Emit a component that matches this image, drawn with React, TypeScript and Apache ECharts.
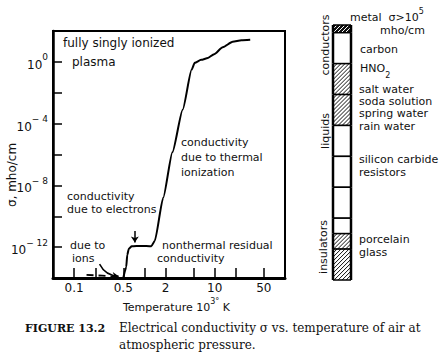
import React, { useEffect, useRef } from 'react';
import * as echarts from 'echarts';

// Main curve: temperature in 10^3 K, conductivity as exponent of σ (mho/cm)
const curveTemps = [0.5, 0.55, 0.57, 0.6, 0.66, 0.9, 1.25, 1.4, 1.85, 2.5, 3.5, 4.7, 5.2, 6.4, 8.0, 9.8, 13, 18, 24, 32];
const curveLogSigma = [-14, -13.3, -12.5, -12.1, -11.95, -11.92, -11.95, -11.6, -8.8, -5.85, -3.1, -0.5, -0.05, 0.13, 0.25, 0.5, 0.95, 1.3, 1.4, 1.43];

// Dashed "due to ions" branch
const ionTemps = [0.15, 0.25, 0.45];
const ionLogSigma = [-13.8, -13.85, -13.95];

// Annotation arrows [temp, logσ]
const arrowFrom = [[0.23, -13.1], [0.73, -10.95]];
const arrowTo = [[0.43, -13.88], [0.73, -11.7]];
const arrowCurveness = [-0.3, 0];

// Axis ticks
const xTickTemps = [0.1, 0.2, 0.5, 1, 2, 5, 10, 20, 50];
const xLabelTemps = [0.1, 0.5, 2, 10, 50];
const yTickExps = [-12, -10, -8, -6, -4, -2, 0];
const yLabelExps = [-12, -8, -4, 0];

// Conductivity scale column (exponent units, top to bottom)
const scaleUpper = [5.5, 5, 3, 1, -1, -3, -5, -7, -8, -9];
const scaleLower = [5, 3, 1, -1, -3, -5, -7, -8, -9, -11];
const scaleFill = ['solid', 'blank', 'hatch', 'hatch', 'blank', 'blank', 'blank', 'blank', 'hatch', 'hatch'];

const SANS = "'DejaVu Sans', 'Liberation Sans', sans-serif";
const SERIF = "'DejaVu Serif', 'Liberation Serif', serif";
const INK = '#111';

const lg = (v: number) => Math.log10(v);

function sup(base: string, exp: string, size = 11, tail = '') {
  return {
    text: `{b|${base}}{s|${exp}}` + (tail ? `{b|${tail}}` : ''),
    rich: {
      b: { fontSize: size, fontFamily: SANS, fill: INK, lineHeight: 16, verticalAlign: 'bottom' },
      s: { fontSize: size - 3, fontFamily: SANS, fill: INK, lineHeight: 16, verticalAlign: 'top' },
    },
  };
}

function txt(x: number, y: number, text: string, size = 11, extra: any = {}) {
  return {
    type: 'text',
    x,
    y,
    style: { text, fontSize: size, fontFamily: SANS, fill: INK, align: 'left', verticalAlign: 'middle', ...extra },
  };
}

export default function App() {
  const ref = useRef<HTMLDivElement>(null);

  useEffect(() => {
    if (!ref.current) return;
    const chart = echarts.init(ref.current, null, { renderer: 'svg' });

    const curveData = curveTemps.map((t, i) => [lg(t), curveLogSigma[i]]);
    const ionData = ionTemps.map((t, i) => [lg(t), ionLogSigma[i]]);
    const arrowData = arrowFrom.map((f, i) => ({
      coords: [[lg(f[0]), f[1]], [lg(arrowTo[i][0]), arrowTo[i][1]]],
      lineStyle: { curveness: arrowCurveness[i] },
    }));
    const scaleData = scaleUpper.map((u, i) => [scaleLower[i], u, scaleFill[i] === 'blank' ? 0 : scaleFill[i] === 'hatch' ? 1 : 2]);

    const fmtTemp = (v: number) => String(Number(Math.pow(10, v).toPrecision(2)));

    const option: any = {
      animation: false,
      backgroundColor: '#fff',
      grid: [
        { left: 53, top: 31, width: 232, height: 247, show: true, borderColor: '#000', borderWidth: 2, containLabel: false },
        { left: 333, top: 25, width: 18, height: 255, show: false },
      ],
      xAxis: [
        {
          type: 'value',
          gridIndex: 0,
          min: lg(0.05),
          max: 2,
          axisLine: { show: true, onZero: false, lineStyle: { color: '#000', width: 3 } },
          axisTick: { show: true, inside: true, length: 10, customValues: xTickTemps.map(lg), lineStyle: { color: '#000', width: 1.5 } },
          axisLabel: {
            customValues: xLabelTemps.map(lg),
            formatter: fmtTemp,
            fontSize: 12,
            fontFamily: SANS,
            color: INK,
            margin: 4,
          },
          splitLine: { show: false },
        },
        { type: 'value', gridIndex: 1, min: 0, max: 1, show: false },
      ],
      yAxis: [
        {
          type: 'value',
          gridIndex: 0,
          min: -14,
          max: 2,
          axisLine: { show: true, onZero: false, lineStyle: { color: '#000', width: 2.5 } },
          axisTick: { show: true, inside: true, length: 9, customValues: yTickExps, lineStyle: { color: '#000', width: 1.5 } },
          axisLabel: {
            customValues: yLabelExps,
            formatter: (v: number) => `{b|10}{s|${v === 0 ? '0' : '\u2212 ' + Math.abs(v)}}`,
            margin: 5,
            rich: {
              b: { fontSize: 12, fontFamily: SANS, color: INK, lineHeight: 18, verticalAlign: 'bottom' },
              s: { fontSize: 9, fontFamily: SANS, color: INK, lineHeight: 18, verticalAlign: 'top' },
            },
          },
          splitLine: { show: false },
        },
        { type: 'value', gridIndex: 1, min: -11, max: 5.5, show: false },
      ],
      series: [
        {
          type: 'line',
          xAxisIndex: 0,
          yAxisIndex: 0,
          data: curveData,
          showSymbol: false,
          smooth: 0.2,
          smoothMonotone: 'x',
          lineStyle: { color: '#000', width: 2 },
          clip: true,
        },
        {
          type: 'line',
          xAxisIndex: 0,
          yAxisIndex: 0,
          data: ionData,
          showSymbol: false,
          lineStyle: { color: '#000', width: 1.8, type: [7, 5] },
        },
        {
          type: 'lines',
          coordinateSystem: 'cartesian2d',
          xAxisIndex: 0,
          yAxisIndex: 0,
          data: arrowData,
          symbol: ['none', 'arrow'],
          symbolSize: 6,
          lineStyle: { color: '#000', width: 1.5, opacity: 1 },
        },
        {
          type: 'custom',
          xAxisIndex: 1,
          yAxisIndex: 1,
          data: scaleData,
          encode: { y: [0, 1] },
          renderItem: (_p: any, api: any) => {
            const lo = api.value(0);
            const hi = api.value(1);
            const kind = api.value(2);
            const a = api.coord([0, hi]);
            const b = api.coord([1, lo]);
            const x0 = a[0], y0 = a[1], x1 = b[0], y1 = b[1];
            const children: any[] = [
              { type: 'rect', shape: { x: x0, y: y0, width: x1 - x0, height: y1 - y0 }, style: { fill: kind === 2 ? '#111' : '#fff' } },
            ];
            if (kind >= 1) {
              const step = 4;
              for (let c = x0 + y0; c <= x1 + y1; c += step) {
                const xs = Math.max(x0, c - y1);
                const xe = Math.min(x1, c - y0);
                if (xe > xs) {
                  children.push({
                    type: 'line',
                    shape: { x1: xs, y1: c - xs, x2: xe, y2: c - xe },
                    style: { stroke: kind === 2 ? '#fff' : '#111', lineWidth: 1 },
                  });
                }
              }
            }
            children.push(
              { type: 'line', shape: { x1: x0, y1: y0, x2: x1, y2: y0 }, style: { stroke: '#000', lineWidth: 1.5 } },
              { type: 'line', shape: { x1: x0, y1: y1, x2: x1, y2: y1 }, style: { stroke: '#000', lineWidth: 1.5 } },
              { type: 'line', shape: { x1: x0, y1: y0, x2: x0, y2: y1 }, style: { stroke: '#000', lineWidth: 2.5 } },
              { type: 'line', shape: { x1: x1, y1: y0, x2: x1, y2: y1 }, style: { stroke: '#000', lineWidth: 2.5 } },
            );
            return { type: 'group', children };
          },
        },
      ],
      graphic: [
        // axis titles
        { type: 'text', x: 12, y: 175, rotation: Math.PI / 2, style: { text: 'σ, mho/cm', fontSize: 12, fontFamily: SANS, fill: INK, align: 'center', verticalAlign: 'middle' } },
        { type: 'text', x: 123, y: 305, style: { ...sup('Temperature 10', '3°', 11, ' K'), align: 'left', verticalAlign: 'middle' } },
        // plot annotations
        txt(63, 43, 'fully singly ionized', 12),
        txt(72, 62, 'plasma', 12),
        txt(181, 142, 'conductivity', 11),
        txt(181, 157, 'due to thermal', 11),
        txt(181, 172, 'ionization', 11),
        txt(67, 196, 'conductivity', 11),
        txt(67, 209, 'due to electrons', 11),
        txt(70, 245, 'due to', 11),
        txt(72, 258, 'ions', 11),
        txt(162, 245, 'nonthermal residual', 11),
        txt(157, 258, 'conductivity', 11),
        // scale column labels
        { type: 'text', x: 350, y: 15, style: { ...sup('metal  σ>10', '5', 11), align: 'left', verticalAlign: 'middle' } },
        txt(380, 30, 'mho/cm', 11),
        txt(360, 49, 'carbon', 11),
        {
          type: 'text', x: 360, y: 71,
          style: {
            text: '{b|HNO}{s|2}', align: 'left', verticalAlign: 'middle',
            rich: {
              b: { fontSize: 11, fontFamily: SANS, fill: INK, lineHeight: 16, verticalAlign: 'top' },
              s: { fontSize: 8, fontFamily: SANS, fill: INK, lineHeight: 16, verticalAlign: 'bottom' },
            },
          },
        },
        txt(359, 89, 'salt water', 11),
        txt(359, 101, 'soda solution', 11),
        txt(359, 113, 'spring water', 11),
        txt(359, 126, 'rain water', 11),
        txt(359, 159, 'silicon carbide', 11),
        txt(359, 172, 'resistors', 11),
        txt(359, 239, 'porcelain', 11),
        txt(359, 252, 'glass', 11),
        { type: 'text', x: 325, y: 45, rotation: Math.PI / 2, style: { text: 'conductors', fontSize: 11, fontFamily: SANS, fill: INK, align: 'center', verticalAlign: 'middle' } },
        { type: 'text', x: 325, y: 131, rotation: Math.PI / 2, style: { text: 'liquids', fontSize: 11, fontFamily: SANS, fill: INK, align: 'center', verticalAlign: 'middle' } },
        { type: 'text', x: 323, y: 247, rotation: Math.PI / 2, style: { text: 'insulators', fontSize: 11, fontFamily: SANS, fill: INK, align: 'center', verticalAlign: 'middle' } },
        // caption
        { type: 'text', x: 25, y: 328, style: { text: 'FIGURE 13.2', fontSize: 11, fontWeight: 'bold', fontFamily: SERIF, fill: INK, align: 'left', verticalAlign: 'middle' } },
        { type: 'text', x: 119, y: 328, style: { text: 'Electrical conductivity σ vs. temperature of air at', fontSize: 12, fontFamily: SERIF, fill: INK, align: 'left', verticalAlign: 'middle' } },
        { type: 'text', x: 119, y: 345, style: { text: 'atmospheric pressure.', fontSize: 12, fontFamily: SERIF, fill: INK, align: 'left', verticalAlign: 'middle' } },
      ],
    };

    chart.setOption(option);
    return () => chart.dispose();
  }, []);

  return <div ref={ref} style={{ position: 'absolute', left: 0, top: 0, width: 446, height: 363, background: '#fff' }} />;
}
